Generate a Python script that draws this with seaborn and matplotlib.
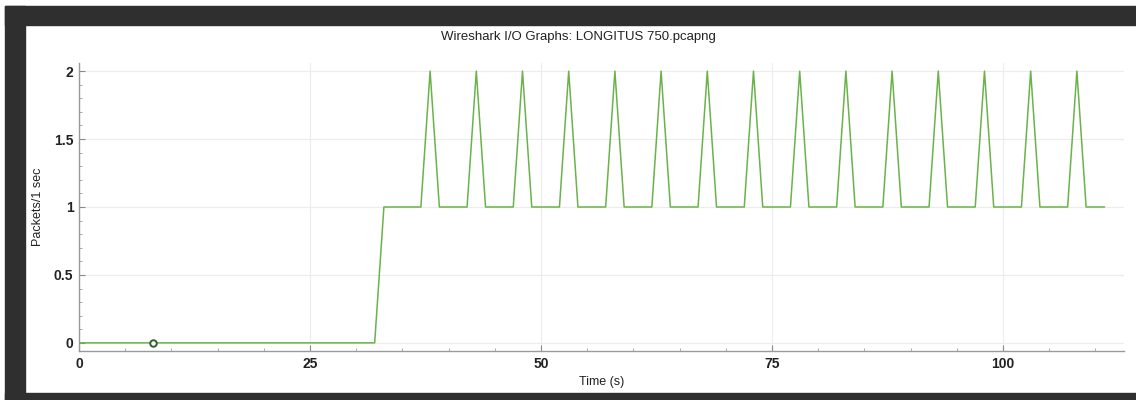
import matplotlib
matplotlib.use("Agg")
import matplotlib.pyplot as plt
from matplotlib.patches import Rectangle
from matplotlib.ticker import MultipleLocator
import seaborn as sns
import pandas as pd

# ---- data ----
times = [0, 32, 33, 37, 38, 39, 42, 43, 44, 47, 48, 49, 52, 53, 54, 57, 58, 59,
         62, 63, 64, 67, 68, 69, 72, 73, 74, 77, 78, 79, 82, 83, 84, 87, 88, 89,
         92, 93, 94, 97, 98, 99, 102, 103, 104, 107, 108, 109, 111]
packets = [0, 0, 1, 1, 2, 1, 1, 2, 1, 1, 2, 1, 1, 2, 1, 1, 2, 1,
           1, 2, 1, 1, 2, 1, 1, 2, 1, 1, 2, 1, 1, 2, 1, 1, 2, 1,
           1, 2, 1, 1, 2, 1, 1, 2, 1, 1, 2, 1, 1]
marker_time = [8]
marker_value = [0]
x_ticks = [0, 25, 50, 75, 100]
y_ticks = [0, 0.5, 1, 1.5, 2]
y_ticklabels = ["0", "0.5", "1", "1.5", "2"]
title = "Wireshark I/O Graphs: LONGITUS 750.pcapng"
xlabel = "Time (s)"
ylabel = "Packets/1 sec"

sns.set_theme(style="white")
plt.rcParams["font.family"] = ["Liberation Sans", "DejaVu Sans"]

fig = plt.figure(figsize=(11.36, 4.0), dpi=100)
fig.patch.set_facecolor("white")

frame = "#2f2f2f"
# dark window frame
fig.patches.append(Rectangle((5 / 1136, 0), 20 / 1136, 394 / 400, transform=fig.transFigure,
                             color=frame, zorder=0))
fig.patches.append(Rectangle((5 / 1136, 375 / 400), 1131 / 1136, 19 / 400, transform=fig.transFigure,
                             color=frame, zorder=0))
fig.patches.append(Rectangle((5 / 1136, 0), 1131 / 1136, 7 / 400, transform=fig.transFigure,
                             color=frame, zorder=0))

ax = fig.add_axes([79 / 1136, 1 - 351 / 400, (1124 - 79) / 1136, (351 - 63) / 400])
ax.set_facecolor("white")

df = pd.DataFrame({"t": times, "p": packets})
sns.lineplot(data=df, x="t", y="p", ax=ax, color="#6ab34a", linewidth=1.1, zorder=3)
mk = pd.DataFrame({"t": marker_time, "p": marker_value})
sns.scatterplot(data=mk, x="t", y="p", ax=ax, s=22, facecolor="white",
                edgecolor="#2f5f2f", linewidth=1.4, zorder=4)

ax.set_xlim(0, 113.1)
ax.set_ylim(-0.06, 2.06)
ax.set_xticks(x_ticks)
ax.set_xticklabels([str(v) for v in x_ticks])
ax.set_yticks(y_ticks)
ax.set_yticklabels(y_ticklabels)
ax.xaxis.set_minor_locator(MultipleLocator(5))
ax.yaxis.set_minor_locator(MultipleLocator(0.1))

ax.grid(True, which="major", color="#ececec", linewidth=0.8, zorder=0)
for side in ["top", "right"]:
    ax.spines[side].set_visible(False)
for side in ["left", "bottom"]:
    ax.spines[side].set_color("#9a9a9a")
    ax.spines[side].set_linewidth(1.0)

ax.tick_params(axis="both", which="major", direction="in", length=4, width=0.8,
               color="#8a8a8a", labelsize=10, labelcolor="#222222", pad=4)
ax.tick_params(axis="both", which="minor", direction="in", length=2, width=0.6,
               color="#9a9a9a")
ax.tick_params(axis="x", which="both", bottom=True)
ax.tick_params(axis="y", which="both", left=True)
for lbl in ax.get_xticklabels() + ax.get_yticklabels():
    lbl.set_fontweight("bold")

ax.set_xlabel(xlabel, fontsize=9, color="#222222", labelpad=4)
ax.set_ylabel(ylabel, fontsize=9, color="#222222")
ax.yaxis.set_label_coords((44 - 79) / 1045, 0.5)

fig.text(578 / 1136, 1 - 37 / 400, title, ha="center", va="center",
         fontsize=9.5, color="#222222")

fig.savefig("out.png", dpi=100, facecolor="white")
